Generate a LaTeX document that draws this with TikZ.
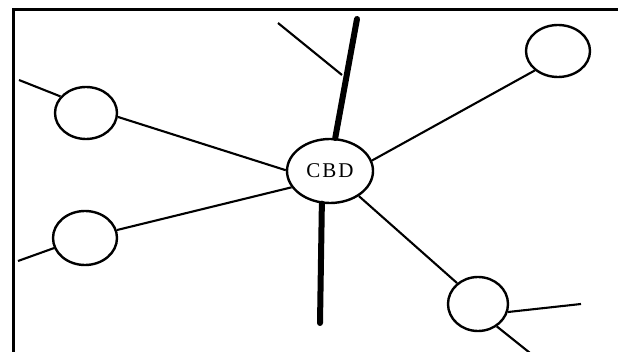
\documentclass[tikz,border=0pt]{standalone}
\usepackage{fontspec}
\setmainfont{Liberation Serif}
\usetikzlibrary{shapes.geometric}
\tikzset{
  place/.style={draw, ellipse, line width=2.4pt, inner sep=0pt},
  road/.style={line width=2.1pt},
  mainroad/.style={line width=6pt, line cap=round},
  frameline/.style={line width=3pt}
}
\begin{document}
\begin{tikzpicture}[x=1pt,y=-1pt]
\useasboundingbox (0,0) rectangle (618,352);
% frame (left and top edges)
\coordinate (fbl) at (13,352);
\coordinate (ftl) at (13,10);
\coordinate (ftr) at (618,10);
\draw[frameline] (fbl) -- (ftl) -- (ftr);
% places
\node[place, minimum width=86pt, minimum height=64pt] (cbd) at (330,171) {\fontsize{21}{21}\selectfont C\kern2pt B\kern2pt D};
\node[place, minimum width=62pt, minimum height=52pt] (ul) at (86,113) {};
\node[place, minimum width=64pt, minimum height=54pt] (ll) at (85,238) {};
\node[place, minimum width=64pt, minimum height=52pt] (tr) at (558,51) {};
\node[place, minimum width=60pt, minimum height=54pt] (br) at (478,304) {};
% free ends
\coordinate (ntop) at (357,19);
\coordinate (nbot) at (320,323);
\coordinate (junc) at (342,75);
\coordinate (brch) at (278,23);
\coordinate (ulout) at (19,80);
\coordinate (llout) at (18,261);
\coordinate (brout) at (581,304);
\coordinate (brdown) at (530,353);
% main road
\draw[mainroad] (cbd.81) -- (ntop);
\draw[mainroad] (cbd.256) -- (nbot);
\draw[road] (brch) -- (junc);
% connections
\draw[road] (ul.-7) -- (cbd.179);
\draw[road] (ll.14) -- (cbd.203);
\draw[road] (tr.220) -- (cbd.14);
\draw[road] (br.135) -- (cbd.-41);
\draw[road] (ulout) -- (ul.147);
\draw[road] (llout) -- (ll.198);
\draw[road] (br.-15) -- (brout);
\draw[road] (br.-50) -- (brdown);
\end{tikzpicture}
\end{document}
